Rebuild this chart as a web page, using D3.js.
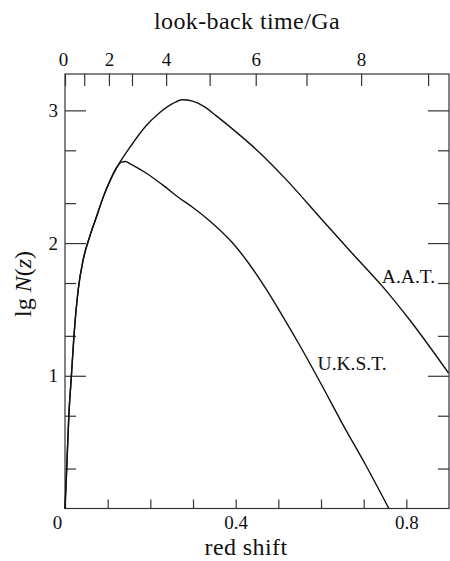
<!DOCTYPE html>
<html>
<head>
<meta charset="utf-8">
<script src="https://cdn.jsdelivr.net/npm/d3@7"></script>
<style>
  body { margin: 0; background: #fff; }
  svg text { font-family: "Liberation Serif", "DejaVu Serif", serif; fill: #111; }
</style>
</head>
<body>
<svg width="450" height="561"></svg>
<script>
// red shift z vs lg N(z)
const aatZ = [0, 0.004, 0.009, 0.015, 0.021, 0.031, 0.043, 0.058, 0.074, 0.090, 0.107, 0.127, 0.154, 0.189, 0.221, 0.252, 0.275, 0.299, 0.330, 0.354, 0.400, 0.450, 0.518, 0.604, 0.674, 0.745, 0.808, 0.899];
const aatN = [0, 0.30, 0.70, 1.00, 1.30, 1.65, 1.88, 2.05, 2.20, 2.35, 2.48, 2.60, 2.73, 2.88, 2.98, 3.05, 3.08, 3.07, 3.02, 2.96, 2.84, 2.70, 2.48, 2.17, 1.92, 1.67, 1.42, 1.02];

const ukstZ = [0, 0.004, 0.009, 0.015, 0.021, 0.031, 0.043, 0.058, 0.074, 0.090, 0.107, 0.122, 0.132, 0.142, 0.154, 0.189, 0.228, 0.268, 0.299, 0.338, 0.393, 0.430, 0.470, 0.510, 0.550, 0.600, 0.650, 0.706, 0.759];
const ukstN = [0, 0.30, 0.70, 1.00, 1.30, 1.65, 1.88, 2.05, 2.20, 2.35, 2.48, 2.575, 2.61, 2.615, 2.595, 2.53, 2.44, 2.34, 2.27, 2.17, 2.00, 1.85, 1.66, 1.45, 1.23, 0.94, 0.64, 0.32, 0];

// top axis: look-back time (Ga) and the red shift it sits at
const lookbackTimes = [0, 1, 2, 3, 4, 5, 6, 7, 8, 9];
const lookbackZ = [0, 0.045, 0.103, 0.157, 0.237, 0.339, 0.447, 0.566, 0.694, 0.851];
const lookbackLabels = [0, 2, 4, 6, 8];

const zTicks = [0, 0.1, 0.2, 0.3, 0.4, 0.5, 0.6, 0.7, 0.8];
const zLabels = [0, 0.4, 0.8];
const nMajor = [1, 2, 3];
const nMinor = [0.301, 0.699, 1.301, 1.699, 2.301, 2.699];

const svg = d3.select('svg');
const margin = {top: 74, right: 1, bottom: 52.5, left: 65};
const width = +svg.attr('width') - margin.left - margin.right;
const height = +svg.attr('height') - margin.top - margin.bottom;
const g = svg.append('g')
  .attr('transform', `translate(${margin.left},${margin.top})`);

const x = d3.scaleLinear().domain([0, 0.9]).range([0, width]);
const y = d3.scaleLinear().domain([0, 3.274]).range([height, 0]);
const xTime = d3.scaleLinear()
  .domain(lookbackTimes)
  .range(lookbackZ.map(x));

// frame
g.append('rect')
  .attr('width', width)
  .attr('height', height)
  .attr('fill', 'none')
  .attr('stroke', '#333')
  .attr('stroke-width', 1.2);

function tidy(sel) {
  sel.select('.domain').remove();
  sel.selectAll('.tick line').attr('stroke', '#333').attr('stroke-width', 1.2);
  sel.selectAll('text').attr('font-family', null).attr('fill', '#111');
}

// bottom
g.append('g')
  .attr('transform', `translate(0,${height})`)
  .call(d3.axisBottom(x)
    .tickValues(zTicks)
    .tickSize(-9)
    .tickPadding(7)
    .tickFormat(d => zLabels.some(v => Math.abs(v - d) < 1e-9) ? d : ''))
  .call(tidy)
  .call(a => a.selectAll('text').attr('font-size', 19))
  .call(a => a.selectAll('.tick').filter(d => d === 0).select('text').attr('dx', -8));

// top
g.append('g')
  .call(d3.axisTop(xTime)
    .tickValues(lookbackTimes)
    .tickSize(-12)
    .tickPadding(8)
    .tickFormat(d => lookbackLabels.includes(d) ? d : ''))
  .call(tidy)
  .call(a => a.selectAll('text').attr('font-size', 19))
  .call(a => a.selectAll('.tick').filter(d => d === 0).select('text').attr('dx', -2));

// left
g.append('g')
  .call(d3.axisLeft(y).tickValues(nMajor).tickSize(-21).tickPadding(7).tickFormat(d3.format('d')))
  .call(tidy)
  .call(a => a.selectAll('text').attr('font-size', 19));
g.append('g')
  .call(d3.axisLeft(y).tickValues(nMinor).tickSize(-11).tickFormat(''))
  .call(tidy);

// right
g.append('g')
  .attr('transform', `translate(${width},0)`)
  .call(d3.axisRight(y).tickValues(nMajor).tickSize(-21).tickFormat(''))
  .call(tidy);
g.append('g')
  .attr('transform', `translate(${width},0)`)
  .call(d3.axisRight(y).tickValues(nMinor).tickSize(-11).tickFormat(''))
  .call(tidy);

// curves
const line = d3.line()
  .x(d => x(d[0]))
  .y(d => y(d[1]))
  .curve(d3.curveMonotoneX);

g.append('path')
  .datum(d3.zip(aatZ, aatN))
  .attr('d', line)
  .attr('fill', 'none')
  .attr('stroke', '#111')
  .attr('stroke-width', 1.4);

g.append('path')
  .datum(d3.zip(ukstZ, ukstN))
  .attr('d', line)
  .attr('fill', 'none')
  .attr('stroke', '#111')
  .attr('stroke-width', 1.4);

// curve labels
g.append('text')
  .attr('x', x(0.745) - 1)
  .attr('y', y(1.70))
  .attr('font-size', 19.5)
  .text('A.A.T.');
g.append('text')
  .attr('x', x(0.592))
  .attr('y', y(1.04))
  .attr('font-size', 19.5)
  .text('U.K.S.T.');

// titles
svg.append('text')
  .attr('x', 247)
  .attr('y', 29)
  .attr('text-anchor', 'middle')
  .attr('font-size', 24)
  .attr('letter-spacing', 0.4)
  .text('look-back time/Ga');

svg.append('text')
  .attr('x', 246)
  .attr('y', 555)
  .attr('text-anchor', 'middle')
  .attr('font-size', 24)
  .attr('letter-spacing', 0.4)
  .text('red shift');

const yl = svg.append('text')
  .attr('transform', 'translate(31,284) rotate(-90)')
  .attr('text-anchor', 'middle')
  .attr('font-size', 24);
yl.append('tspan').text('lg ');
yl.append('tspan').attr('font-style', 'italic').text('N');
yl.append('tspan').text('(');
yl.append('tspan').attr('font-style', 'italic').text('z');
yl.append('tspan').text(')');
</script>
</body>
</html>
